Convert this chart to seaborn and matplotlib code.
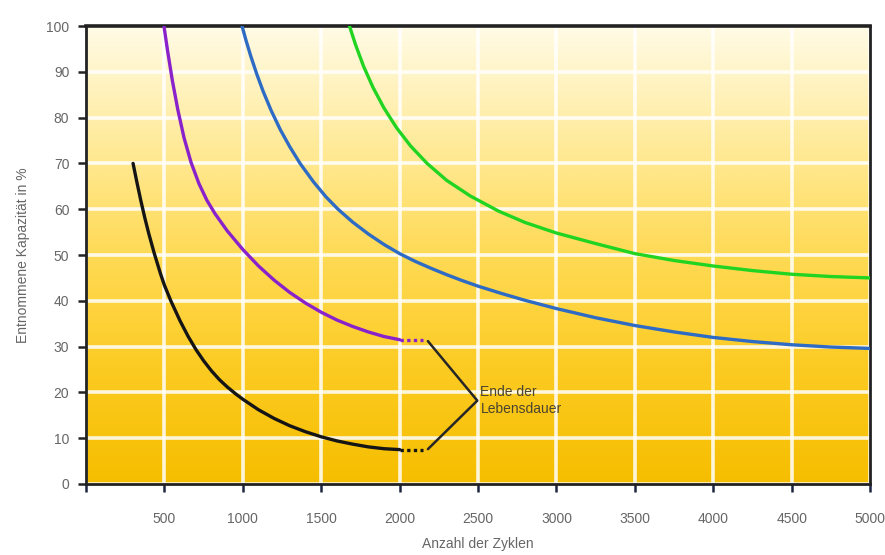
import numpy as np
import pandas as pd
import matplotlib
matplotlib.use("Agg")
import matplotlib.pyplot as plt
from matplotlib.colors import LinearSegmentedColormap
import seaborn as sns

# Cycle life curves: capacity drawn per cycle (%) vs. number of cycles
black_x = [300, 325, 350, 375, 400, 434, 475, 500, 542, 600, 650, 702, 750, 800, 850, 900, 957,
           1000, 1100, 1200, 1300, 1400, 1500, 1600, 1700, 1800, 1900, 2000]
black_y = [70, 65.8, 61.8, 58.1, 54.7, 50.5, 45.9, 43.4, 39.9, 35.6, 32.3, 29.3, 26.9, 24.7, 22.8, 21.2, 19.6,
           18.5, 16.2, 14.3, 12.7, 11.4, 10.3, 9.4, 8.7, 8.1, 7.7, 7.5]

purple_x = [497, 520, 550, 585, 625, 670, 720, 770, 823, 900, 1000, 1100, 1200, 1300, 1400, 1500,
            1600, 1700, 1800, 1900, 2000]
purple_y = [100, 94.6, 88.2, 81.8, 75.6, 70.2, 65.6, 62.0, 59.0, 55.3, 51.2, 47.6, 44.5, 41.8, 39.5, 37.5,
            35.8, 34.4, 33.2, 32.2, 31.5]

blue_x = [995, 1020, 1050, 1090, 1130, 1180, 1240, 1300, 1365, 1450, 1530, 1607, 1700, 1800, 1900, 2000,
          2100, 2200, 2300, 2400, 2500, 2650, 2800, 3000, 3250, 3500, 3750, 4000, 4250, 4500, 4750, 5000]
blue_y = [100, 96.9, 93.5, 89.4, 85.7, 81.6, 77.3, 73.6, 70, 66, 62.7, 60, 57.2, 54.6, 52.3, 50.3,
          48.6, 47.1, 45.7, 44.4, 43.2, 41.6, 40.1, 38.3, 36.3, 34.6, 33.2, 32, 31.1, 30.4, 29.9, 29.6]

green_x = [1680, 1720, 1770, 1830, 1900, 1980, 2070, 2175, 2300, 2450, 2630, 2800, 3000, 3250, 3500,
           3750, 4000, 4250, 4500, 4750, 5000]
green_y = [100, 95.8, 91.2, 86.6, 82.1, 77.8, 73.8, 70, 66.3, 62.9, 59.6, 57.1, 54.8, 52.5, 50.3,
           48.8, 47.6, 46.6, 45.8, 45.3, 45]

# dotted end-of-life tails
tail_x = [2000, 2150]
purple_tail_y = [31.5, 31.5]
black_tail_y = [7.5, 7.5]

# bracket pointing to the "end of life" note
bracket_x = [2180, 2495, 2180]
bracket_y = [31.2, 18.2, 7.6]

x_ticks = [0, 500, 1000, 1500, 2000, 2500, 3000, 3500, 4000, 4500, 5000]
x_tick_labels = ["", "500", "1000", "1500", "2000", "2500", "3000", "3500", "4000", "4500", "5000"]
y_ticks = [0, 10, 20, 30, 40, 50, 60, 70, 80, 90, 100]

colors = {"schwarz": "#151515", "violett": "#8A22CC", "blau": "#2E6BC4", "grün": "#22D422"}

frames = []
for name, xs, ys in [("schwarz", black_x, black_y), ("violett", purple_x, purple_y),
                     ("blau", blue_x, blue_y), ("grün", green_x, green_y)]:
    frames.append(pd.DataFrame({"Zyklen": xs, "Kapazität": ys, "Kurve": name}))
df = pd.concat(frames, ignore_index=True)

tails = pd.concat([
    pd.DataFrame({"Zyklen": tail_x, "Kapazität": purple_tail_y, "Kurve": "violett"}),
    pd.DataFrame({"Zyklen": tail_x, "Kapazität": black_tail_y, "Kurve": "schwarz"}),
], ignore_index=True)

sns.set_theme(style="white")
plt.rcParams["font.family"] = ["Liberation Sans Narrow", "Liberation Sans", "DejaVu Sans"]

fig = plt.figure(figsize=(8.85, 5.55), dpi=100)
ax = fig.add_axes([0.0972, 0.128, 0.886, 0.825])

# warm background gradient, pale cream at the top to golden yellow at the bottom
cmap = LinearSegmentedColormap.from_list(
    "warm",
    [(0.0, "#F6BE00"), (0.25, "#FCCB22"), (0.5, "#FFDA55"), (0.75, "#FFEB9C"), (1.0, "#FFFBE6")],
)
grad = np.linspace(0, 1, 256).reshape(-1, 1)
ax.imshow(grad, extent=[0, 5000, 0, 100], origin="lower", aspect="auto", cmap=cmap, zorder=0)

sns.lineplot(data=df, x="Zyklen", y="Kapazität", hue="Kurve", palette=colors, sort=False,
             estimator=None, linewidth=2.4, legend=False, ax=ax, zorder=3,
             solid_joinstyle="round", solid_capstyle="round")
sns.lineplot(data=tails, x="Zyklen", y="Kapazität", hue="Kurve", palette=colors, sort=False,
             estimator=None, linewidth=2.4, linestyle=(0, (1, 1)), legend=False, ax=ax, zorder=3)

ax.plot(bracket_x, bracket_y, color="#262626", linewidth=1.8, zorder=3)
ax.text(2515, 18.2, "Ende der\nLebensdauer", fontsize=10, color="#4A4430",
        va="center", ha="left", linespacing=1.25, zorder=4)

ax.set_xlim(0, 5000)
ax.set_ylim(0, 100)
ax.set_xticks(x_ticks)
ax.set_xticklabels(x_tick_labels)
ax.set_yticks(y_ticks)

ax.grid(True, color="white", linewidth=2.6, alpha=0.85)
ax.set_axisbelow(True)

for side, lw in [("top", 2.6), ("left", 2.0), ("right", 2.0), ("bottom", 2.0)]:
    ax.spines[side].set_visible(True)
    ax.spines[side].set_color("#222222")
    ax.spines[side].set_linewidth(lw)

ax.tick_params(axis="y", direction="out", length=6, width=1.8, color="#222222",
               labelsize=10, labelcolor="#666666", pad=6, left=True)
ax.tick_params(axis="x", direction="out", length=6, width=1.8, color="#1C2440",
               labelsize=10, labelcolor="#666666", pad=14, bottom=True)

ax.set_xlabel("Anzahl der Zyklen", fontsize=10, color="#666666", labelpad=8)
ax.set_ylabel("Entnommene Kapazität in %", fontsize=10, color="#666666", labelpad=12)

fig.savefig("out.png", dpi=100, facecolor="white")
